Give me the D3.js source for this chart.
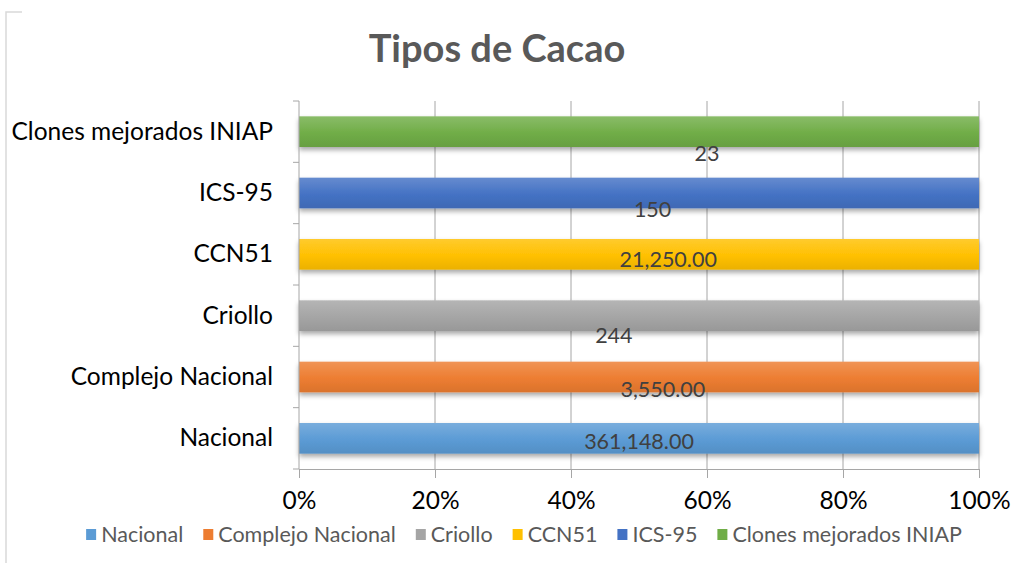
<!DOCTYPE html>
<html>
<head>
<meta charset="utf-8">
<title>Tipos de Cacao</title>
<script src="https://d3js.org/d3.v7.min.js"></script>
<style>
  body { margin: 0; background: #fff; }
  svg text { font-family: Lato, "Open Sans", sans-serif; }
</style>
</head>
<body>
<svg id="chart" width="1017" height="563"></svg>
<script>
// data, series order as in the legend
var tipos = ["Nacional", "Complejo Nacional", "Criollo", "CCN51", "ICS-95", "Clones mejorados INIAP"];
var hectareas = [361148, 3550, 244, 21250, 150, 23];
var formatos = [",.2f", ",.2f", "d", ",.2f", "d", "d"];
var colores = ["#5B9BD5", "#ED7D31", "#A5A5A5", "#FFC000", "#4472C4", "#70AD47"];
var ticksX = [0, 0.2, 0.4, 0.6, 0.8, 1];

// labels were dragged by hand in the original: x as share of the bar, y as share of the band
var etiquetaX = [0.50, 0.535, 0.463, 0.543, 0.52, 0.60];
var etiquetaY = [0.04, 0.20, 0.31, 0.07, 0.26, 0.35];

var svg = d3.select("#chart");
var margin = {top: 101, left: 299, right: 38, bottom: 94};
var width = 1017 - margin.left - margin.right,
    height = 563 - margin.top - margin.bottom;

// chart area border (cropped)
svg.append("path")
  .attr("d", "M6,563 L6,12 L22,12")
  .attr("fill", "none")
  .attr("stroke", "#d9d9d9")
  .attr("stroke-width", 1.5);

svg.append("text")
  .attr("x", 497).attr("y", 62)
  .attr("text-anchor", "middle")
  .style("font-size", "38px").style("font-weight", "bold")
  .style("fill", "#595959")
  .text("Tipos de Cacao");

var defs = svg.append("defs");
colores.forEach(function(c, i) {
  var gr = defs.append("linearGradient").attr("id", "grad" + i)
    .attr("x1", 0).attr("y1", 0).attr("x2", 0).attr("y2", 1);
  gr.append("stop").attr("offset", "0%").attr("stop-color", d3.interpolateRgb(c, "#fff")(0.18));
  gr.append("stop").attr("offset", "55%").attr("stop-color", c);
  gr.append("stop").attr("offset", "100%").attr("stop-color", d3.interpolateRgb(c, "#000")(0.08));
});
var f = defs.append("filter").attr("id", "sombra")
  .attr("x", "-5%").attr("y", "-20%").attr("width", "110%").attr("height", "160%");
f.append("feDropShadow").attr("dx", 0).attr("dy", 3).attr("stdDeviation", 2.5)
  .attr("flood-color", "#000").attr("flood-opacity", 0.35);

var g = svg.append("g").attr("transform", "translate(" + margin.left + "," + margin.top + ")");

// one row per category, only its own series has a value
var filas = tipos.map(function(t, i) {
  var r = {cat: t};
  tipos.forEach(function(s, j) { r[s] = (i === j) ? hectareas[i] : 0; });
  return r;
});
var stack = d3.stack().keys(tipos).offset(d3.stackOffsetExpand);
var capas = stack(filas);

var x = d3.scaleLinear().domain([0, 1]).range([0, width]);
var y = d3.scaleBand().domain(tipos).range([height, 0]).paddingInner(0.5).paddingOuter(0.25);

// grid
g.append("g").selectAll("line").data(ticksX.slice(1)).enter().append("line")
  .attr("x1", function(d) { return x(d); }).attr("x2", function(d) { return x(d); })
  .attr("y1", 0).attr("y2", height)
  .attr("stroke", "#a6a6a6").attr("stroke-width", 1);

// bars
capas.forEach(function(capa, i) {
  g.append("g").selectAll("rect").data(capa.filter(function(d) { return d[1] > d[0]; })).enter().append("rect")
    .attr("x", function(d) { return x(d[0]); })
    .attr("width", function(d) { return x(d[1]) - x(d[0]); })
    .attr("y", function(d) { return y(d.data.cat); })
    .attr("height", y.bandwidth())
    .attr("fill", "url(#grad" + i + ")")
    .attr("filter", "url(#sombra)");
});

// axes
var yAxis = g.append("g")
  .call(d3.axisLeft(y).tickSize(0).tickPadding(26));
yAxis.select(".domain").remove();
yAxis.selectAll("text").style("font-size", "24.5px").style("fill", "#000");

// left axis line with ticks between categories
var bordes = d3.range(tipos.length + 1).map(function(i) { return height - i * height / tipos.length; });
g.append("line").attr("x1", 0).attr("x2", 0).attr("y1", 0).attr("y2", height)
  .attr("stroke", "#a6a6a6");
g.append("g").selectAll("line").data(bordes).enter().append("line")
  .attr("x1", -6).attr("x2", 0)
  .attr("y1", function(d) { return d; }).attr("y2", function(d) { return d; })
  .attr("stroke", "#a6a6a6");

var xAxis = g.append("g").attr("transform", "translate(0," + height + ")")
  .call(d3.axisBottom(x).tickValues(ticksX).tickFormat(d3.format(".0%")).tickSize(9).tickPadding(14).tickSizeOuter(0));
xAxis.select(".domain").attr("stroke", "#a6a6a6");
xAxis.selectAll(".tick line").attr("stroke", "#a6a6a6");
xAxis.selectAll("text").style("font-size", "24.5px").style("fill", "#000");

// data labels
g.append("g").selectAll("text").data(tipos).enter().append("text")
  .attr("x", function(d, i) { return x(etiquetaX[i]); })
  .attr("y", function(d) { return y(d) + y.bandwidth() / 2; })
  .attr("dy", function(d, i) { return (etiquetaY[i] * y.step()) + 8; })
  .attr("text-anchor", "middle")
  .style("font-size", "21.5px").style("fill", "#404040")
  .text(function(d, i) { return d3.format(formatos[i])(hectareas[i]); });

// legend, laid out from text widths and centred
var leg = svg.append("g");
var items = leg.selectAll("g").data(tipos).enter().append("g");
items.append("rect").attr("x", 0).attr("y", -6).attr("width", 10).attr("height", 11)
  .attr("fill", function(d, i) { return colores[i]; });
items.append("text").attr("x", 15).attr("y", 7)
  .style("font-size", "21.5px").style("fill", "#595959")
  .text(function(d) { return d; });
var pos = 0;
items.each(function() {
  var w = d3.select(this).select("text").node().getComputedTextLength();
  d3.select(this).attr("transform", "translate(" + pos + ",0)");
  pos += 15 + w + 20;
});
var total = pos - 20;
leg.attr("transform", "translate(" + (524 - total / 2) + ",535)");
</script>
</body>
</html>
